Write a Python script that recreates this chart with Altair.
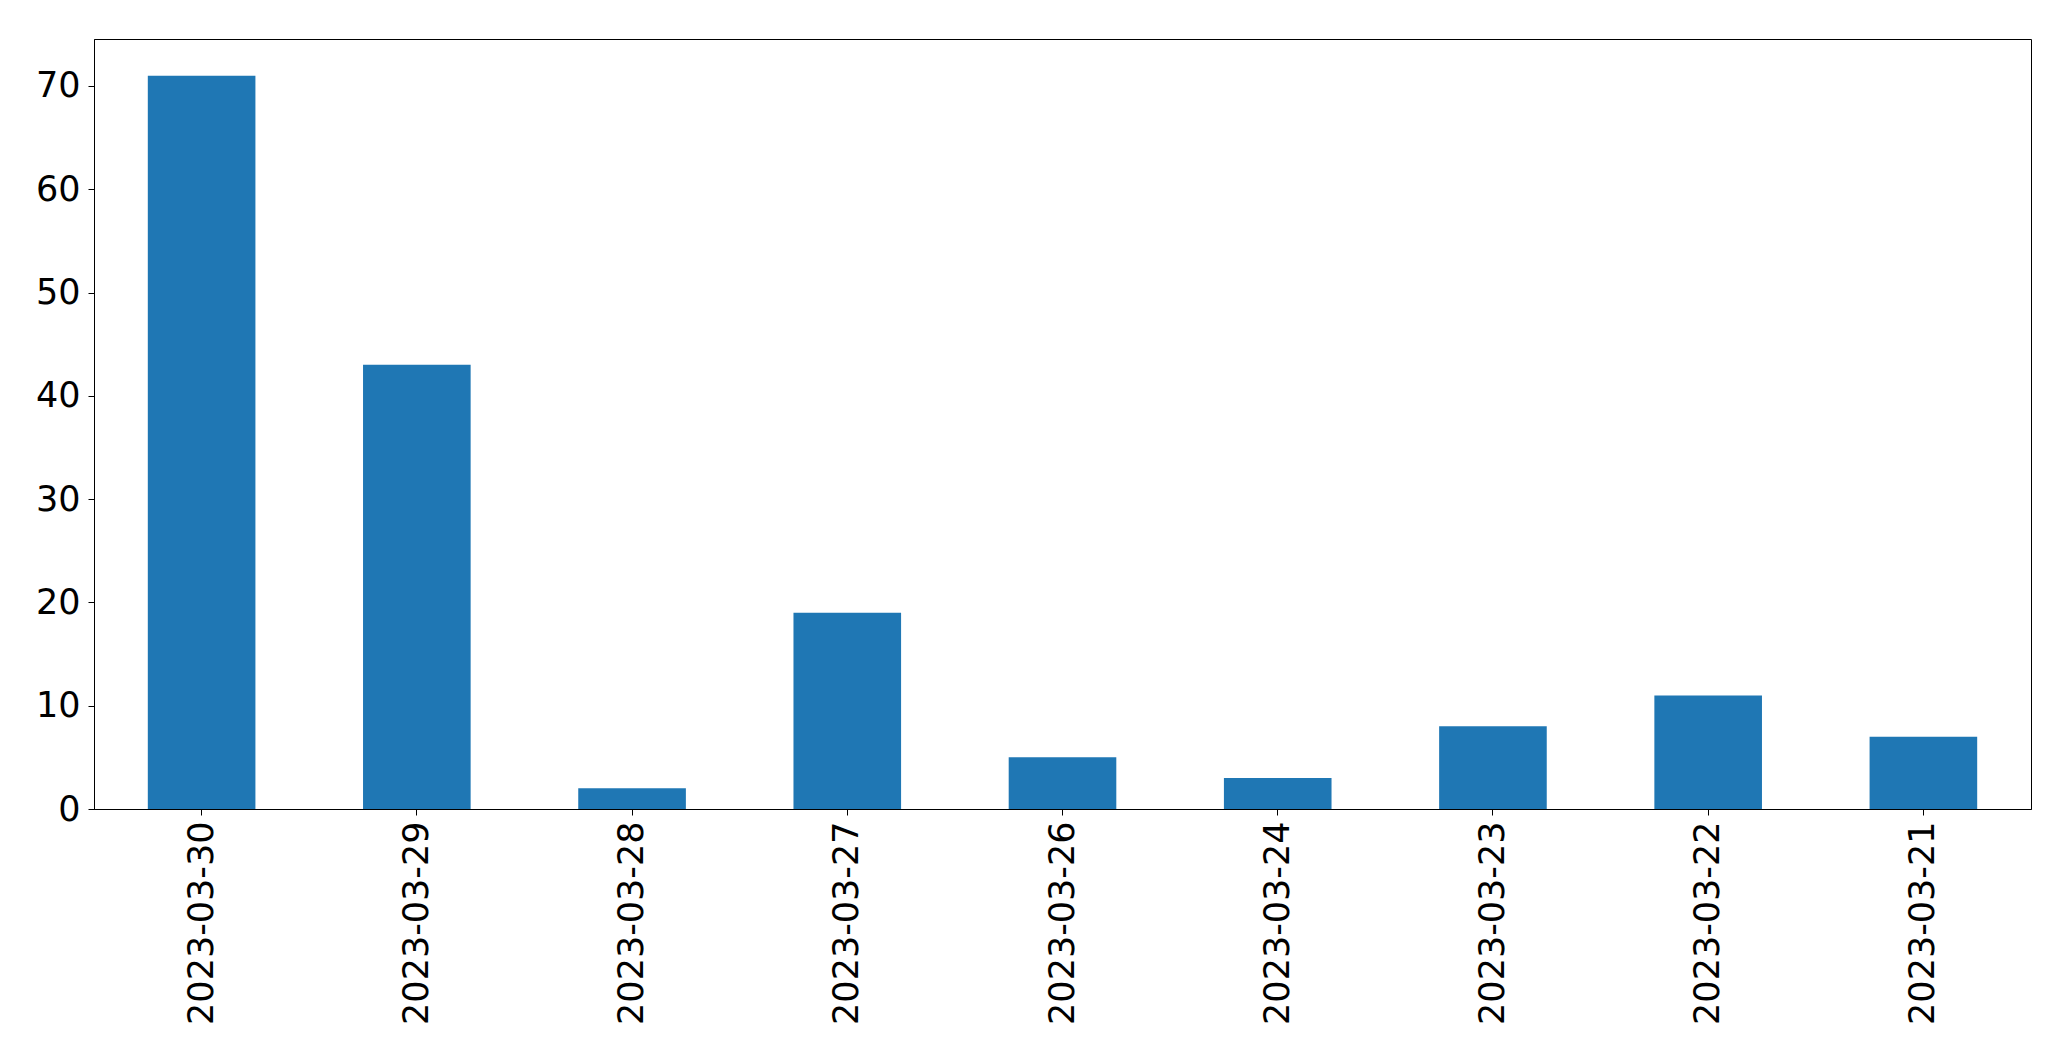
import altair as alt
import pandas as pd

dates = ["2023-03-30", "2023-03-29", "2023-03-28", "2023-03-27", "2023-03-26",
         "2023-03-24", "2023-03-23", "2023-03-22", "2023-03-21"]
counts = [71, 43, 2, 19, 5, 3, 8, 11, 7]
y_ticks = [0, 10, 20, 30, 40, 50, 60, 70]

df = pd.DataFrame({"date": dates, "count": counts})

chart = alt.Chart(df).mark_bar(color="#1f77b4").encode(
    x=alt.X("date:N", sort=None, title=None,
            scale=alt.Scale(paddingInner=0.5, paddingOuter=0.25),
            axis=alt.Axis(labelAngle=-90, labelFontSize=35, labelFont="DejaVu Sans",
                          labelLimit=0,
                          labelColor="black", tickColor="black", domainColor="black",
                          tickSize=6, labelPadding=6, domainWidth=1, tickWidth=1)),
    y=alt.Y("count:Q", title=None,
            scale=alt.Scale(domain=[0, 74.55], nice=False, zero=True),
            axis=alt.Axis(values=y_ticks, grid=False, labelFontSize=35, labelFont="DejaVu Sans",
                          labelColor="black", tickColor="black", domainColor="black",
                          tickSize=6, labelPadding=8, domainWidth=1, tickWidth=1)),
).properties(
    width=1937, height=770,
    autosize=alt.AutoSizeParams(type="none"),
    padding={"left": 86, "top": 31, "right": 30, "bottom": 240},
).configure_view(stroke="black", strokeWidth=1)

chart.save("out.html", embed_options={"renderer": "svg", "actions": False})
